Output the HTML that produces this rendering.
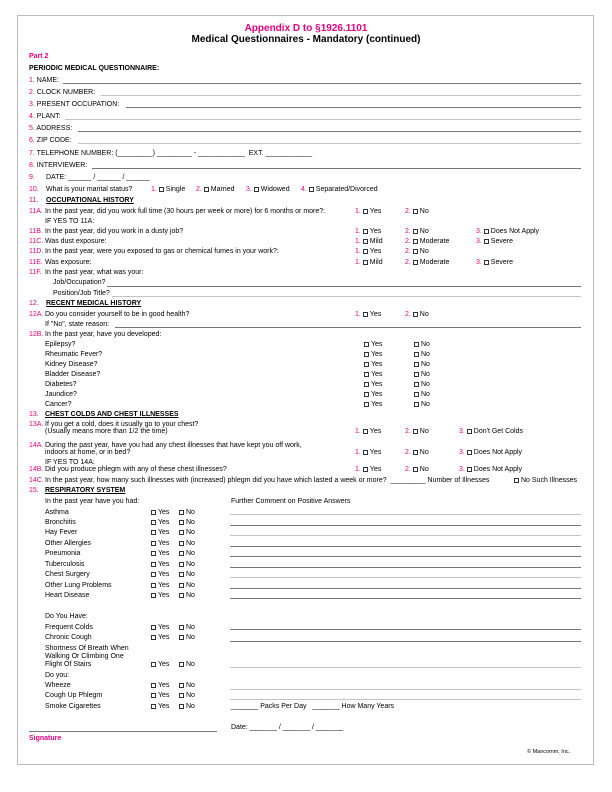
<!DOCTYPE html>
<html><head><meta charset="utf-8"><style>
*{margin:0;padding:0;box-sizing:border-box}
body{width:612px;height:792px;background:#fff;position:relative;overflow:hidden;font-family:"Liberation Sans",Arial,sans-serif;color:#000}
.frame{position:absolute;left:17px;top:15px;width:577px;height:750px;border:1px solid #bbb}
.t{position:absolute;font-size:7px;line-height:8px;white-space:nowrap}
.m{color:#e5007d}
.bd{font-weight:bold}
.u{text-decoration:underline}
.l{position:absolute;height:0;border-top:0.8px solid #777}
.lg{position:absolute;height:0;border-top:1.6px solid #c2c2c2}
.b{display:inline-block;width:5px;height:5px;border:0.7px solid #333;margin-right:2px;vertical-align:-0.5px}
.h1{position:absolute;left:0;width:612px;text-align:center;font-weight:bold;font-size:10px;line-height:12px}
</style></head><body>
<div class="frame"></div>
<div class="h1 m" style="top:23px">Appendix D to §1926.1101</div>
<div class="h1" style="top:34px">Medical Questionnaires - Mandatory (continued)</div>
<div class="t m bd" style="left:29px;top:53px">Part 2</div>
<div class="t bd" style="left:29px;top:65px">PERIODIC MEDICAL QUESTIONNAIRE:</div>

<div class="t" style="left:29px;top:77px"><span class="m">1.</span> NAME:</div><div class="l" style="left:63px;width:518px;top:83px"></div>
<div class="t" style="left:29px;top:89px"><span class="m">2.</span> CLOCK NUMBER:</div><div class="lg" style="left:101px;width:480px;top:95px"></div>
<div class="t" style="left:29px;top:101px"><span class="m">3.</span> PRESENT OCCUPATION:</div><div class="l" style="left:126px;width:455px;top:107px"></div>
<div class="t" style="left:29px;top:113px"><span class="m">4.</span> PLANT:</div><div class="lg" style="left:65px;width:516px;top:119px"></div>
<div class="t" style="left:29px;top:125px"><span class="m">5.</span> ADDRESS:</div><div class="l" style="left:78px;width:503px;top:131px"></div>
<div class="t" style="left:29px;top:137px"><span class="m">6.</span> ZIP CODE:</div><div class="lg" style="left:78px;width:503px;top:143px"></div>
<div class="t" style="left:29px;top:150px"><span class="m">7.</span> TELEPHONE NUMBER: (_________) _________ - ____________&nbsp; EXT. ____________</div>
<div class="t" style="left:29px;top:162px"><span class="m">8.</span> INTERVIEWER:</div><div class="l" style="left:92px;width:489px;top:168px"></div>
<div class="t" style="left:29px;top:174px"><span class="m">9.</span></div><div class="t" style="left:46px;top:174px">DATE: ______ / ______ / ______</div>
<div class="t" style="left:29px;top:186px"><span class="m">10.</span></div><div class="t" style="left:46px;top:186px">What is your marital status?</div>
<div class="t" style="left:151px;top:186px"><span class="m">1.</span> <span class="b"></span>Single</div>
<div class="t" style="left:196px;top:186px"><span class="m">2.</span> <span class="b"></span>Married</div>
<div class="t" style="left:246px;top:186px"><span class="m">3.</span> <span class="b"></span>Widowed</div>
<div class="t" style="left:301px;top:186px"><span class="m">4.</span> <span class="b"></span>Separated/Divorced</div>

<div class="t" style="left:29px;top:197px"><span class="m">11.</span></div><div class="t bd u" style="left:46px;top:197px">OCCUPATIONAL HISTORY</div>
<div class="t m" style="left:29px;top:208px">11A.</div><div class="t" style="left:45px;top:208px">In the past year, did you work full time (30 hours per week or more) for 6 months or more?:</div>
<div class="t" style="left:45px;top:218px">IF YES TO 11A:</div>
<div class="t m" style="left:29px;top:228px">11B.</div><div class="t" style="left:45px;top:228px">In the past year, did you work in a dusty job?</div>
<div class="t m" style="left:29px;top:238px">11C.</div><div class="t" style="left:45px;top:238px">Was dust exposure:</div>
<div class="t m" style="left:29px;top:248px">11D.</div><div class="t" style="left:45px;top:248px">In the past year, were you exposed to gas or chemical fumes in your work?:</div>
<div class="t m" style="left:29px;top:259px">11E.</div><div class="t" style="left:45px;top:259px">Was exposure:</div>
<div class="t m" style="left:29px;top:269px">11F.</div><div class="t" style="left:45px;top:269px">In the past year, what was your:</div>
<div class="t" style="left:53px;top:279px">Job/Occupation?</div><div class="l" style="left:107px;width:474px;top:286px"></div>
<div class="t" style="left:53px;top:290px">Position/Job Title?</div><div class="lg" style="left:112px;width:469px;top:296px"></div>

<div class="t" style="left:355px;top:208px"><span class="m">1.</span> <span class="b"></span>Yes</div><div class="t" style="left:405px;top:208px"><span class="m">2.</span> <span class="b"></span>No</div>
<div class="t" style="left:355px;top:228px"><span class="m">1.</span> <span class="b"></span>Yes</div><div class="t" style="left:405px;top:228px"><span class="m">2.</span> <span class="b"></span>No</div><div class="t" style="left:476px;top:228px"><span class="m">3.</span> <span class="b"></span>Does Not Apply</div>
<div class="t" style="left:355px;top:238px"><span class="m">1.</span> <span class="b"></span>Mild</div><div class="t" style="left:405px;top:238px"><span class="m">2.</span> <span class="b"></span>Moderate</div><div class="t" style="left:476px;top:238px"><span class="m">3.</span> <span class="b"></span>Severe</div>
<div class="t" style="left:355px;top:248px"><span class="m">1.</span> <span class="b"></span>Yes</div><div class="t" style="left:405px;top:248px"><span class="m">2.</span> <span class="b"></span>No</div>
<div class="t" style="left:355px;top:259px"><span class="m">1.</span> <span class="b"></span>Mild</div><div class="t" style="left:405px;top:259px"><span class="m">2.</span> <span class="b"></span>Moderate</div><div class="t" style="left:476px;top:259px"><span class="m">3.</span> <span class="b"></span>Severe</div>

<div class="t" style="left:29px;top:300px"><span class="m">12.</span></div><div class="t bd u" style="left:46px;top:300px">RECENT MEDICAL HISTORY</div>
<div class="t m" style="left:29px;top:311px">12A.</div><div class="t" style="left:45px;top:311px">Do you consider yourself to be in good health?</div>
<div class="t" style="left:355px;top:311px"><span class="m">1.</span> <span class="b"></span>Yes</div><div class="t" style="left:405px;top:311px"><span class="m">2.</span> <span class="b"></span>No</div>
<div class="t" style="left:45px;top:321px">If "No", state reason:</div><div class="l" style="left:115px;width:466px;top:327px"></div>
<div class="t m" style="left:29px;top:331px">12B.</div><div class="t" style="left:45px;top:331px">In the past year, have you developed:</div>
<div class="t" style="left:45px;top:341px">Epilepsy?</div><div class="t" style="left:364px;top:341px"><span class="b"></span>Yes</div><div class="t" style="left:414px;top:341px"><span class="b"></span>No</div>
<div class="t" style="left:45px;top:351px">Rheumatic Fever?</div><div class="t" style="left:364px;top:351px"><span class="b"></span>Yes</div><div class="t" style="left:414px;top:351px"><span class="b"></span>No</div>
<div class="t" style="left:45px;top:361px">Kidney Disease?</div><div class="t" style="left:364px;top:361px"><span class="b"></span>Yes</div><div class="t" style="left:414px;top:361px"><span class="b"></span>No</div>
<div class="t" style="left:45px;top:371px">Bladder Disease?</div><div class="t" style="left:364px;top:371px"><span class="b"></span>Yes</div><div class="t" style="left:414px;top:371px"><span class="b"></span>No</div>
<div class="t" style="left:45px;top:381px">Diabetes?</div><div class="t" style="left:364px;top:381px"><span class="b"></span>Yes</div><div class="t" style="left:414px;top:381px"><span class="b"></span>No</div>
<div class="t" style="left:45px;top:391px">Jaundice?</div><div class="t" style="left:364px;top:391px"><span class="b"></span>Yes</div><div class="t" style="left:414px;top:391px"><span class="b"></span>No</div>
<div class="t" style="left:45px;top:401px">Cancer?</div><div class="t" style="left:364px;top:401px"><span class="b"></span>Yes</div><div class="t" style="left:414px;top:401px"><span class="b"></span>No</div>

<div class="t" style="left:29px;top:411px"><span class="m">13.</span></div><div class="t bd u" style="left:45px;top:411px">CHEST COLDS AND CHEST ILLNESSES</div>
<div class="t m" style="left:29px;top:421px">13A.</div><div class="t" style="left:45px;top:421px">If you get a cold, does it usually go to your chest?</div>
<div class="t" style="left:45px;top:428px">(Usually means more than 1/2 the time)</div>
<div class="t" style="left:355px;top:428px"><span class="m">1.</span> <span class="b"></span>Yes</div><div class="t" style="left:405px;top:428px"><span class="m">2.</span> <span class="b"></span>No</div><div class="t" style="left:459px;top:428px"><span class="m">3.</span> <span class="b"></span>Don't Get Colds</div>
<div class="t m" style="left:29px;top:442px">14A.</div><div class="t" style="left:45px;top:442px">During the past year, have you had any chest illnesses that have kept you off work,</div>
<div class="t" style="left:45px;top:449px">indoors at home, or in bed?</div>
<div class="t" style="left:355px;top:449px"><span class="m">1.</span> <span class="b"></span>Yes</div><div class="t" style="left:405px;top:449px"><span class="m">2.</span> <span class="b"></span>No</div><div class="t" style="left:459px;top:449px"><span class="m">3.</span> <span class="b"></span>Does Not Apply</div>
<div class="t" style="left:45px;top:459px">IF YES TO 14A:</div>
<div class="t m" style="left:29px;top:466px">14B.</div><div class="t" style="left:45px;top:466px">Did you produce phlegm with any of these chest illnesses?</div>
<div class="t" style="left:355px;top:466px"><span class="m">1.</span> <span class="b"></span>Yes</div><div class="t" style="left:405px;top:466px"><span class="m">2.</span> <span class="b"></span>No</div><div class="t" style="left:459px;top:466px"><span class="m">3.</span> <span class="b"></span>Does Not Apply</div>
<div class="t m" style="left:29px;top:477px">14C.</div><div class="t" style="left:45px;top:477px">In the past year, how many such illnesses with (increased) phlegm did you have which lasted a week or more?&nbsp; _________ Number of Illnesses</div>
<div class="t" style="left:514px;top:477px"><span class="b"></span>No Such Illnesses</div>

<div class="t" style="left:29px;top:487px"><span class="m">15.</span></div><div class="t bd u" style="left:45px;top:487px">RESPIRATORY SYSTEM</div>
<div class="t" style="left:45px;top:498px">In the past year have you had:</div>
<div class="t" style="left:231px;top:498px">Further Comment on Positive Answers</div>

<div class="t" style="left:45px;top:509px">Asthma</div><div class="t" style="left:151px;top:509px"><span class="b"></span>Yes</div><div class="t" style="left:179px;top:509px"><span class="b"></span>No</div><div class="lg" style="left:230px;width:351px;top:514px"></div>
<div class="t" style="left:45px;top:519px">Bronchitis</div><div class="t" style="left:151px;top:519px"><span class="b"></span>Yes</div><div class="t" style="left:179px;top:519px"><span class="b"></span>No</div><div class="l" style="left:230px;width:351px;top:525px"></div>
<div class="t" style="left:45px;top:529px">Hay Fever</div><div class="t" style="left:151px;top:529px"><span class="b"></span>Yes</div><div class="t" style="left:179px;top:529px"><span class="b"></span>No</div><div class="lg" style="left:230px;width:351px;top:535px"></div>
<div class="t" style="left:45px;top:540px">Other Allergies</div><div class="t" style="left:151px;top:540px"><span class="b"></span>Yes</div><div class="t" style="left:179px;top:540px"><span class="b"></span>No</div><div class="l" style="left:230px;width:351px;top:546px"></div>
<div class="t" style="left:45px;top:550px">Pneumonia</div><div class="t" style="left:151px;top:550px"><span class="b"></span>Yes</div><div class="t" style="left:179px;top:550px"><span class="b"></span>No</div><div class="l" style="left:230px;width:351px;top:556px"></div>
<div class="t" style="left:45px;top:561px">Tuberculosis</div><div class="t" style="left:151px;top:561px"><span class="b"></span>Yes</div><div class="t" style="left:179px;top:561px"><span class="b"></span>No</div><div class="l" style="left:230px;width:351px;top:567px"></div>
<div class="t" style="left:45px;top:571px">Chest Surgery</div><div class="t" style="left:151px;top:571px"><span class="b"></span>Yes</div><div class="t" style="left:179px;top:571px"><span class="b"></span>No</div><div class="lg" style="left:230px;width:351px;top:577px"></div>
<div class="t" style="left:45px;top:582px">Other Lung Problems</div><div class="t" style="left:151px;top:582px"><span class="b"></span>Yes</div><div class="t" style="left:179px;top:582px"><span class="b"></span>No</div><div class="l" style="left:230px;width:351px;top:588px"></div>
<div class="t" style="left:45px;top:592px">Heart Disease</div><div class="t" style="left:151px;top:592px"><span class="b"></span>Yes</div><div class="t" style="left:179px;top:592px"><span class="b"></span>No</div><div class="l" style="left:230px;width:351px;top:598px"></div>

<div class="t" style="left:45px;top:613px">Do You Have:</div>
<div class="t" style="left:45px;top:624px">Frequent Colds</div><div class="t" style="left:151px;top:624px"><span class="b"></span>Yes</div><div class="t" style="left:179px;top:624px"><span class="b"></span>No</div><div class="l" style="left:230px;width:351px;top:629px"></div>
<div class="t" style="left:45px;top:634px">Chronic Cough</div><div class="t" style="left:151px;top:634px"><span class="b"></span>Yes</div><div class="t" style="left:179px;top:634px"><span class="b"></span>No</div><div class="l" style="left:230px;width:351px;top:641px"></div>
<div class="t" style="left:45px;top:645px">Shortness Of Breath When</div>
<div class="t" style="left:45px;top:653px">Walking Or Climbing One</div>
<div class="t" style="left:45px;top:661px">Flight Of Stairs</div><div class="t" style="left:151px;top:661px"><span class="b"></span>Yes</div><div class="t" style="left:179px;top:661px"><span class="b"></span>No</div><div class="lg" style="left:230px;width:351px;top:667px"></div>
<div class="t" style="left:45px;top:672px">Do you:</div>
<div class="t" style="left:45px;top:682px">Wheeze</div><div class="t" style="left:151px;top:682px"><span class="b"></span>Yes</div><div class="t" style="left:179px;top:682px"><span class="b"></span>No</div><div class="lg" style="left:230px;width:351px;top:689px"></div>
<div class="t" style="left:45px;top:692px">Cough Up Phlegm</div><div class="t" style="left:151px;top:692px"><span class="b"></span>Yes</div><div class="t" style="left:179px;top:692px"><span class="b"></span>No</div><div class="lg" style="left:230px;width:351px;top:699px"></div>
<div class="t" style="left:45px;top:703px">Smoke Cigarettes</div><div class="t" style="left:151px;top:703px"><span class="b"></span>Yes</div><div class="t" style="left:179px;top:703px"><span class="b"></span>No</div>
<div class="t" style="left:231px;top:703px">_______ Packs Per Day&nbsp;&nbsp; _______ How Many Years</div>

<div class="l" style="left:29px;width:188px;top:731px"></div>
<div class="t" style="left:231px;top:724px">Date: _______ / _______ / _______</div>
<div class="t m bd" style="left:29px;top:735px">Signature</div>
<div class="t" style="left:527px;top:748px;font-size:5.5px">© Mancomm, Inc.</div>
</body></html>
